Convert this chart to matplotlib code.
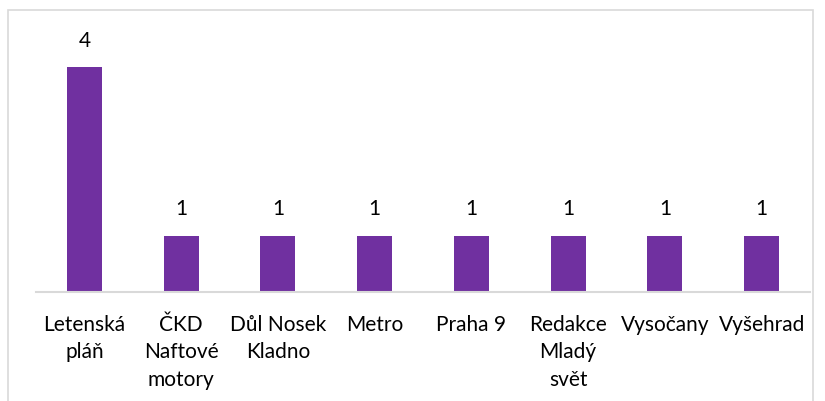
import matplotlib.pyplot as plt
from matplotlib.patches import Rectangle

categories = ["Letenská\npláň", "ČKD\nNaftové\nmotory", "Důl Nosek\nKladno", "Metro",
              "Praha 9", "Redakce\nMladý\nsvět", "Vysočany", "Vyšehrad"]
values = [4, 1, 1, 1, 1, 1, 1, 1]

plt.rcParams['font.family'] = ['Lato', 'DejaVu Sans']

W, H = 825, 401
fig = plt.figure(figsize=(W / 100, H / 100), dpi=100)

# outer chart frame
fig.patches.append(Rectangle((8 / W, -0.05), (813 - 8) / W, (H - 10) / H + 0.05,
                             transform=fig.transFigure, fill=False,
                             edgecolor='#d9d9d9', linewidth=1.2))

ax = fig.add_axes([36 / W, 1 - 292 / H, (810 - 36) / W, (292 - 14) / H])
x = range(len(categories))
bars = ax.bar(x, values, width=0.36, color='#7030A0')
for xi, v in zip(x, values):
    ax.text(xi, v + 0.3, str(v), ha='center', va='bottom', fontsize=15, color='#000000')

ax.set_xlim(-0.5, len(categories) - 0.5)
ax.set_ylim(0, 4.95)
ax.set_yticks([])
ax.set_xticks(list(x))
ax.set_xticklabels(categories, fontsize=15, linespacing=1.47)
ax.tick_params(axis='x', length=0, pad=16.5)
for s in ['top', 'right', 'left']:
    ax.spines[s].set_visible(False)
ax.spines['bottom'].set_color('#d9d9d9')
ax.spines['bottom'].set_linewidth(1.5)

fig.savefig('out.png', dpi=100)
